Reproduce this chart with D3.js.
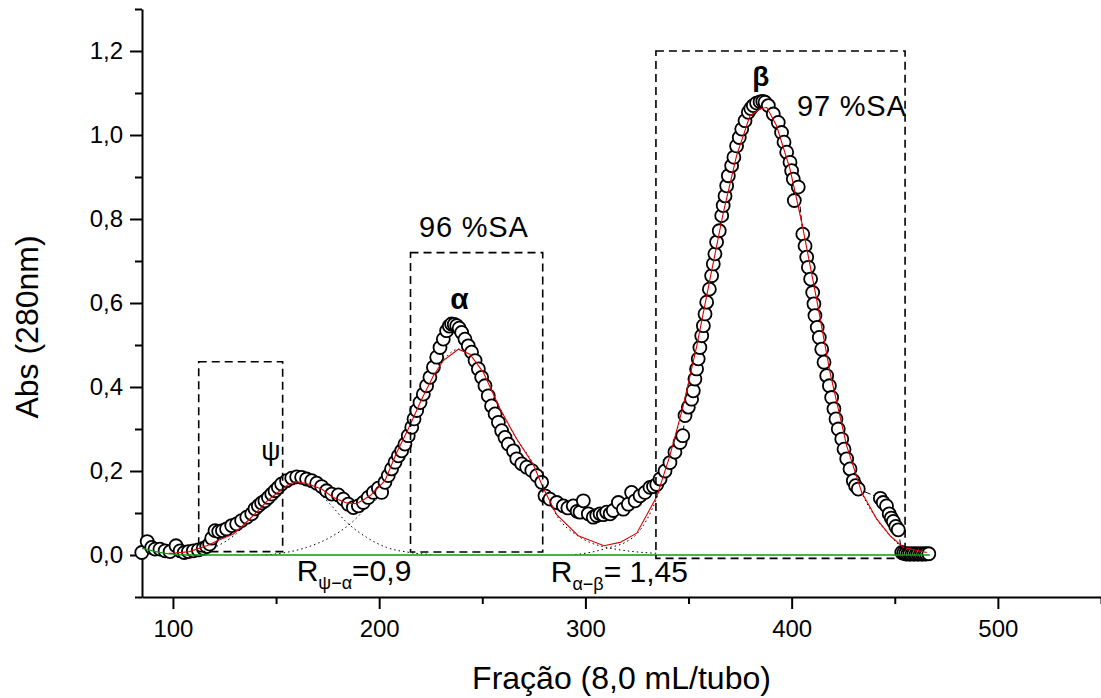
<!DOCTYPE html>
<html>
<head>
<meta charset="utf-8">
<script src="https://cdn.jsdelivr.net/npm/d3@7"></script>
<style>
  body { margin: 0; background: #fff; }
  svg { display: block; font-family: 'Liberation Sans', Arial, sans-serif; }
</style>
</head>
<body>
<div id="chart"></div>
<script>
// Absorbância medida por fração
var fracao = [
  84.9, 87.5, 89.7, 91.3, 93.7, 96.2, 98.6, 101.5, 103.5, 105.5, 107.5, 109.9, 112.3, 114.7, 116.4, 117.8,
  118.8, 120.4, 122.2, 124.0, 126.0, 128.5, 130.9, 133.3, 135.8, 138.2, 139.8, 141.4, 143.0, 144.6, 146.3,
  147.9, 149.5, 151.1, 152.7, 155.1, 157.6, 160.0, 162.4, 164.8, 167.3, 169.7, 172.1, 174.5, 177.0, 180.2,
  182.6, 185.0, 187.5, 189.9, 192.3, 194.7, 197.2, 199.6, 201.2, 202.8, 204.4, 206.0, 207.7, 209.3, 210.9,
  212.5, 214.1, 215.8, 216.9, 218.2, 219.8, 221.4, 223.0, 224.6, 226.3, 227.9, 229.5, 231.1, 232.7, 234.0,
  235.1, 236.4, 237.6, 238.8, 240.0, 241.6, 243.2, 244.8, 246.5, 248.1, 249.7, 251.3, 252.9, 254.5, 256.2,
  257.8, 259.4, 261.0, 262.6, 265.1, 266.7, 269.1, 271.5, 274.0, 276.4, 278.8, 280.4, 282.8, 286.1, 289.3,
  291.5, 294.1, 296.0, 297.4, 299.0, 301.4, 303.8, 305.5, 307.1, 308.7, 310.3, 312.0, 313.5, 316.0, 318.4,
  320.8, 322.4, 324.1, 326.5, 328.9, 331.3, 333.0, 334.6, 336.2, 338.6, 341.0, 343.4, 345.9, 347.2, 348.3,
  349.9, 351.5, 352.3, 353.1, 353.9, 354.7, 355.5, 356.4, 357.2, 358.0, 358.8, 360.1, 361.2, 362.0, 362.8,
  363.6, 364.9, 366.1, 366.8, 367.7, 368.5, 369.3, 370.9, 372.0, 373.3, 374.6, 375.8, 377.4, 379.0, 380.2,
  381.4, 383.0, 384.7, 386.0, 387.1, 388.7, 391.1, 393.5, 395.1, 396.3, 397.6, 399.2, 400.0, 400.8, 401.3,
  403.2, 405.4, 406.5, 407.3, 408.1, 409.2, 410.2, 410.8, 411.3, 412.4, 413.4, 414.6, 415.7, 417.0, 418.3,
  419.4, 420.5, 421.5, 422.6, 424.3, 425.4, 426.7, 428.3, 429.9, 431.0, 432.3, 443.0, 444.4, 446.0, 447.3,
  448.3, 449.3, 450.5, 451.7, 453.4, 454.3, 455.3, 456.3, 457.3, 458.3, 459.3, 460.3, 461.3, 462.3, 463.3,
  464.3, 465.3, 466.5
]
var absorbancia = [
  0.006, 0.032, 0.018, 0.014, 0.014, 0.010, 0.008, 0.022, 0.010, 0.006, 0.008, 0.010, 0.012, 0.016, 0.020, 0.026,
  0.040, 0.058, 0.056, 0.058, 0.062, 0.070, 0.074, 0.082, 0.090, 0.098, 0.110, 0.117, 0.124, 0.129, 0.137,
  0.145, 0.153, 0.161, 0.169, 0.177, 0.183, 0.186, 0.185, 0.181, 0.177, 0.171, 0.163, 0.153, 0.145, 0.143,
  0.133, 0.121, 0.113, 0.117, 0.125, 0.137, 0.149, 0.159, 0.149, 0.173, 0.189, 0.205, 0.221, 0.236, 0.248,
  0.264, 0.284, 0.304, 0.324, 0.344, 0.363, 0.383, 0.403, 0.423, 0.447, 0.471, 0.494, 0.514, 0.534, 0.545,
  0.550, 0.549, 0.546, 0.540, 0.530, 0.514, 0.498, 0.483, 0.463, 0.443, 0.423, 0.403, 0.379, 0.355, 0.336,
  0.316, 0.296, 0.280, 0.264, 0.248, 0.229, 0.217, 0.209, 0.201, 0.189, 0.173, 0.141, 0.133, 0.125, 0.117,
  0.112, 0.117, 0.104, 0.102, 0.129, 0.098, 0.090, 0.094, 0.098, 0.096, 0.102, 0.098, 0.106, 0.125, 0.109,
  0.121, 0.149, 0.129, 0.141, 0.149, 0.161, 0.163, 0.168, 0.181, 0.200, 0.220, 0.245, 0.268, 0.284, 0.332,
  0.352, 0.371, 0.391, 0.419, 0.443, 0.467, 0.494, 0.522, 0.546, 0.574, 0.602, 0.633, 0.665, 0.693, 0.717,
  0.745, 0.772, 0.808, 0.832, 0.855, 0.879, 0.903, 0.927, 0.947, 0.974, 0.994, 1.014, 1.034, 1.054, 1.063,
  1.070, 1.076, 1.079, 1.080, 1.078, 1.070, 1.050, 1.030, 1.006, 0.983, 0.959, 0.935, 0.915, 0.895, 0.844,
  0.876, 0.764, 0.736, 0.709, 0.685, 0.657, 0.625, 0.598, 0.570, 0.542, 0.518, 0.490, 0.459, 0.427, 0.403,
  0.375, 0.348, 0.324, 0.300, 0.276, 0.252, 0.229, 0.205, 0.177, 0.165, 0.157, 0.135, 0.125, 0.117, 0.098,
  0.088, 0.080, 0.068, 0.060, 0.006, 0.004, 0.003, 0.002, 0.003, 0.002, 0.003, 0.002, 0.003, 0.002, 0.003,
  0.002, 0.003, 0.003
]

// Ajuste (soma das gaussianas)
var ajusteFracao = [98, 100.2, 108, 116.4, 122, 129.3, 135, 140.6, 146, 151.9, 155.5, 159.2, 164.8, 172.1, 177.8,
  184.2, 189.1, 195.6, 202.8, 208.5, 214.1, 220.6, 226.3, 231.1, 238.4, 244, 250.5, 258.6, 266.7, 274.8, 279.5,
  286.1, 296.5, 309, 316.8, 324.9, 334.6, 341, 347.5, 354, 360.4, 366.9, 373.3, 379.8, 384.7, 387.9, 392.7,
  399.2, 404.9, 412.1, 418.6, 426.7, 434, 441.2, 447.7, 454.2, 465.5]
var ajusteAbs = [0.004, 0.004, 0.008, 0.022, 0.035, 0.050, 0.075, 0.102, 0.130, 0.153, 0.166, 0.175, 0.170, 0.157, 0.137,
  0.124, 0.122, 0.141, 0.177, 0.244, 0.300, 0.371, 0.427, 0.463, 0.490, 0.478, 0.435, 0.348, 0.276, 0.215, 0.160,
  0.096, 0.046, 0.022, 0.030, 0.052, 0.139, 0.237, 0.356, 0.498, 0.657, 0.816, 0.951, 1.046, 1.062, 1.066, 1.022,
  0.919, 0.792, 0.609, 0.435, 0.260, 0.149, 0.086, 0.046, 0.018, 0.006]

// Componentes gaussianas
var psiFracao = [100, 110, 120, 130, 140, 150, 155, 160, 165, 170, 176.2, 184.2, 193.9, 203.6, 214.9, 225]
var psiAbs = [0.000, 0.004, 0.018, 0.048, 0.100, 0.148, 0.166, 0.173, 0.168, 0.152, 0.121, 0.078, 0.042, 0.018, 0.006, 0.001]
var alfaFracao = [145, 153.5, 164.8, 176.2, 185.9, 193.9, 202.8, 208.5, 214.1, 220.6, 226.3, 231.1, 238.4, 244, 250.5,
  258.6, 266.7, 274.8, 279.5, 286.1, 296.5, 302.2, 310.3, 320, 334.6]
var alfaAbs = [0.000, 0.005, 0.018, 0.042, 0.074, 0.113, 0.160, 0.235, 0.296, 0.370, 0.427, 0.463, 0.490, 0.478, 0.435,
  0.348, 0.276, 0.215, 0.160, 0.094, 0.045, 0.030, 0.018, 0.010, 0.004]
var betaFracao = [295, 302.2, 310.3, 320, 324.9, 334.6, 341, 347.5, 354, 360.4, 366.9, 373.3, 379.8, 384.7, 387.9,
  392.7, 399.2, 404.9, 412.1, 418.6, 426.7, 434, 441.2, 447.7, 454.2, 465.5]
var betaAbs = [0.001, 0.006, 0.016, 0.032, 0.050, 0.136, 0.236, 0.356, 0.498, 0.657, 0.816, 0.951, 1.046, 1.062, 1.066,
  1.022, 0.919, 0.792, 0.609, 0.435, 0.260, 0.149, 0.086, 0.046, 0.018, 0.006]

// Linha de base
var baseFracao = [85, 90, 95, 100, 108, 467]
var baseAbs = [0.016, 0.010, 0.005, 0.002, 0.000, 0.000]

// Regiões coletadas (fração inicial/final, abs inferior/superior)
var regiaoIni = [112.5, 215.2, 334.2]
var regiaoFim = [153.2, 279.3, 455.0]
var regiaoBaixo = [0.008, 0.007, -0.008]
var regiaoTopo = [0.46, 0.72, 1.2]

var yTicks = [0, 0.2, 0.4, 0.6, 0.8, 1.0, 1.2]
var yMinor = [-0.1, 0.1, 0.3, 0.5, 0.7, 0.9, 1.1, 1.3]
var xTicks = [100, 200, 300, 400, 500]
var xMinor = [150, 250, 350, 450, 550]

var width = 1101
var height = 698

var x = d3.scaleLinear().domain([85, 550]).range([142, 1101])
var y = d3.scaleLinear().domain([-0.1, 1.3]).range([597, 9])

var svg = d3.select('#chart').append('svg')
  .attr('width', width)
  .attr('height', height)

var comma = function (d) { return d3.format('.1f')(d).replace('.', ',') }

// Eixos
svg.append('g')
  .attr('class', 'y axis')
  .attr('transform', 'translate(' + x(85) + ',0)')
  .call(d3.axisLeft(y).tickValues(yTicks).tickSize(12).tickSizeOuter(0).tickPadding(7).tickFormat(comma))
svg.append('g')
  .attr('transform', 'translate(' + x(85) + ',0)')
  .call(d3.axisLeft(y).tickValues(yMinor).tickSize(7).tickSizeOuter(0).tickFormat(''))
  .select('.domain').remove()

svg.append('g')
  .attr('class', 'x axis')
  .attr('transform', 'translate(0,' + y(-0.1) + ')')
  .call(d3.axisBottom(x).tickValues(xTicks).tickSize(12).tickSizeOuter(0).tickPadding(11).tickFormat(d3.format('d')))
svg.append('g')
  .attr('transform', 'translate(0,' + y(-0.1) + ')')
  .call(d3.axisBottom(x).tickValues(xMinor).tickSize(7).tickSizeOuter(0).tickFormat(''))
  .select('.domain').remove()

svg.selectAll('.tick line, .domain')
  .attr('stroke', '#000')
  .attr('stroke-width', 2)
svg.selectAll('.tick text')
  .attr('font-size', 24)
  .attr('font-family', "'Liberation Sans', Arial, sans-serif")
  .attr('fill', '#000')

svg.append('text')
  .attr('x', x(85) + (x(550) - x(85)) / 2)
  .attr('y', 689)
  .attr('text-anchor', 'middle')
  .attr('font-size', 32)
  .text('Fração (8,0 mL/tubo)')

svg.append('text')
  .attr('transform', 'translate(38,327) rotate(-90)')
  .attr('text-anchor', 'middle')
  .attr('font-size', 32)
  .text('Abs (280nm)')

var line = d3.line()
  .x(function (d) { return x(d[0]) })
  .y(function (d) { return y(d[1]) })
var smooth = d3.line()
  .x(function (d) { return x(d[0]) })
  .y(function (d) { return y(d[1]) })
  .curve(d3.curveMonotoneX)

// Componentes pontilhadas
;[[psiFracao, psiAbs], [alfaFracao, alfaAbs], [betaFracao, betaAbs]].forEach(function (c) {
  svg.append('path')
    .datum(d3.zip(c[0], c[1]))
    .attr('d', smooth)
    .attr('fill', 'none')
    .attr('stroke', '#000')
    .attr('stroke-width', 1)
    .attr('stroke-dasharray', '1.5,3')
})

var pontos = d3.zip(fracao, absorbancia)

svg.append('path')
  .datum(pontos)
  .attr('d', line)
  .attr('fill', 'none')
  .attr('stroke', '#000')
  .attr('stroke-width', 1)
  .attr('stroke-dasharray', '6,3')

svg.append('g')
  .selectAll('circle')
  .data(pontos)
  .join('circle')
  .attr('cx', function (d) { return x(d[0]) })
  .attr('cy', function (d) { return y(d[1]) })
  .attr('r', 6.5)
  .attr('fill', '#fff')
  .attr('stroke', '#000')
  .attr('stroke-width', 1.8)

svg.append('path')
  .datum(d3.zip(baseFracao, baseAbs))
  .attr('d', smooth)
  .attr('fill', 'none')
  .attr('stroke', '#119911')
  .attr('stroke-width', 1.3)

svg.append('path')
  .datum(d3.zip(ajusteFracao, ajusteAbs))
  .attr('d', line)
  .attr('fill', 'none')
  .attr('stroke', '#e00000')
  .attr('stroke-width', 1.1)

// Caixas tracejadas
svg.append('g')
  .selectAll('rect')
  .data(d3.range(regiaoIni.length))
  .join('rect')
  .attr('x', function (i) { return x(regiaoIni[i]) })
  .attr('y', function (i) { return y(regiaoTopo[i]) })
  .attr('width', function (i) { return x(regiaoFim[i]) - x(regiaoIni[i]) })
  .attr('height', function (i) { return y(regiaoBaixo[i]) - y(regiaoTopo[i]) })
  .attr('fill', 'none')
  .attr('stroke', '#000')
  .attr('stroke-width', 1.6)
  .attr('stroke-dasharray', '8,5')

// Rótulos
var picos = [
  { t: 'ψ', f: 147.5, a: 0.226, bold: false, size: 27 },
  { t: 'α', f: 238.9, a: 0.586, bold: true, size: 30 },
  { t: 'β', f: 385.1, a: 1.117, bold: true, size: 28 }
]
svg.append('g')
  .selectAll('text')
  .data(picos)
  .join('text')
  .attr('x', function (d) { return x(d.f) })
  .attr('y', function (d) { return y(d.a) })
  .attr('text-anchor', 'middle')
  .attr('font-size', function (d) { return d.size })
  .attr('font-weight', function (d) { return d.bold ? 'bold' : 'normal' })
  .text(function (d) { return d.t })

var pureza = [
  { t: '96 %SA', f: 219.3, a: 0.757 },
  { t: '97 %SA', f: 402.6, a: 1.045 }
]
svg.append('g')
  .selectAll('text')
  .data(pureza)
  .join('text')
  .attr('x', function (d) { return x(d.f) })
  .attr('y', function (d) { return y(d.a) })
  .attr('font-size', 29)
  .attr('letter-spacing', 0.8)
  .text(function (d) { return d.t })

var resolucao = [
  { sub: 'ψ−α', val: '=0,9', f: 160, a: -0.061 },
  { sub: 'α−β', val: '= 1,45', f: 283.2, a: -0.064 }
]
resolucao.forEach(function (d) {
  var t = svg.append('text')
    .attr('x', x(d.f))
    .attr('y', y(d.a))
    .attr('font-size', 30)
  t.append('tspan').text('R')
  t.append('tspan').attr('font-size', 18).attr('dy', 8).text(d.sub)
  t.append('tspan').attr('dy', -8).text(d.val)
})
</script>
</body>
</html>
